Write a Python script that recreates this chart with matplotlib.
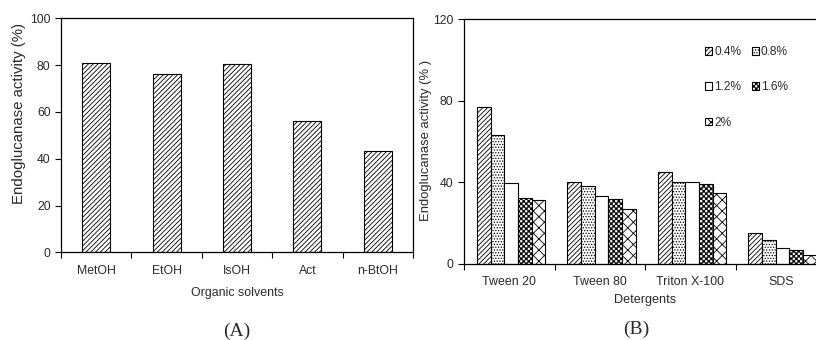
import warnings
import numpy as np
import matplotlib
matplotlib.use("Agg")
import matplotlib.pyplot as plt
from matplotlib import hatch as mhatch
from matplotlib.path import Path

warnings.filterwarnings("ignore", message=".*hatch must consist.*")

# Data, panel A
solvents = ["MetOH", "EtOH", "IsOH", "Act", "n-BtOH"]
solvent_activity = [80.7, 76.1, 80.3, 56.0, 43.2]

# Data, panel B
detergents = ["Tween 20", "Tween 80", "Triton X-100", "SDS"]
concentrations = ["0.4%", "0.8%", "1.2%", "1.6%", "2%"]
act_04 = [76.7, 40.3, 45.0, 15.0]
act_08 = [63.0, 38.0, 40.3, 11.8]
act_12 = [39.9, 33.2, 40.3, 7.7]
act_16 = [32.2, 31.8, 39.4, 6.7]
act_20 = [31.3, 27.0, 34.7, 4.3]


# checkerboard hatch (char 'c'), matplotlib has none
class CheckerHatch(mhatch.HatchPatternBase):
    def __init__(self, hatch, density):
        self.n = 40 if 'c' in hatch else 0
        self.num_vertices = (self.n * self.n // 2) * 5

    def set_vertices_and_codes(self, vertices, codes):
        s = 1.0 / self.n
        d = 0.12 * s
        k = 0
        for i in range(self.n):
            for j in range(self.n):
                if (i + j) % 2 == 0:
                    x, y = i * s, j * s
                    vertices[k:k + 5] = [(x + d, y + d), (x + s - d, y + d),
                                         (x + s - d, y + s - d), (x + d, y + s - d),
                                         (x + d, y + d)]
                    codes[k:k + 5] = [Path.MOVETO, Path.LINETO, Path.LINETO,
                                      Path.LINETO, Path.CLOSEPOLY]
                    k += 5


mhatch._hatch_types.append(CheckerHatch)

plt.rcParams['font.family'] = ['Liberation Sans', 'DejaVu Sans']
plt.rcParams['hatch.linewidth'] = 0.6
text_col = '#2a2a2a'

fig = plt.figure(figsize=(8.16, 3.4), dpi=100)

# Panel A
axA = fig.add_axes([61 / 816, 1 - 252.3 / 340, 352 / 816, 234 / 340])
x = np.arange(len(solvents))
axA.bar(x, solvent_activity, width=0.4, color='white', edgecolor='black',
        linewidth=0.8, hatch='///////')
axA.set_xlim(-0.5, len(solvents) - 0.5)
axA.set_ylim(0, 100)
axA.set_yticks(range(0, 101, 20))
axA.set_xticks(x)
axA.set_xticklabels(solvents)
axA.set_xticks(np.arange(-0.5, len(solvents)), minor=True)
axA.tick_params(axis='x', which='major', length=0, pad=9, labelsize=8.8, labelcolor=text_col)
axA.tick_params(axis='x', which='minor', length=4, direction='out', width=0.8)
axA.tick_params(axis='y', length=4, direction='out', width=0.8, pad=3.5,
                labelsize=8.8, labelcolor=text_col)
axA.set_ylabel("Endoglucanase activity (%)", fontsize=10.8, color=text_col, va='center')
axA.yaxis.set_label_coords(-0.119, 0.594)
axA.set_xlabel("Organic solvents", fontsize=8.9, color=text_col, va='center')
axA.xaxis.set_label_coords(0.5, -0.174)
for sp in axA.spines.values():
    sp.set_linewidth(0.9)

# Panel B
axB = fig.add_axes([464 / 816, 1 - 264 / 340, 362 / 816, 245 / 340])
xb = np.arange(len(detergents))
series = [act_04, act_08, act_12, act_16, act_20]
hatches = ['///////', '......', '', 'c', 'xxx']
bw = 0.151
bars = []
for i, (vals, h, lab) in enumerate(zip(series, hatches, concentrations)):
    b = axB.bar(xb + (i - 2) * bw + 0.02, vals, width=bw, color='white',
                edgecolor='black', linewidth=0.8, hatch=h, label=lab)
    bars.append(b)
axB.set_xlim(-0.5, len(detergents) - 0.5)
axB.set_ylim(0, 120)
axB.set_yticks(range(0, 121, 40))
axB.set_xticks(xb)
axB.set_xticklabels(detergents)
axB.set_xticks(np.arange(-0.5, len(detergents)), minor=True)
axB.tick_params(axis='x', which='major', length=0, pad=8.5, labelsize=8.9, labelcolor=text_col)
axB.tick_params(axis='x', which='minor', length=4, direction='out', width=0.8)
axB.tick_params(axis='y', length=4, direction='out', width=0.8, pad=3.5,
                labelsize=8.8, labelcolor=text_col)
axB.set_ylabel("Endoglucanase activity (% )", fontsize=9.4, color=text_col, va='center')
axB.yaxis.set_label_coords(-0.106, 0.506)
axB.set_xlabel("Detergents", fontsize=9.1, color=text_col, va='center')
axB.xaxis.set_label_coords(0.5, -0.147)
for sp in axB.spines.values():
    sp.set_linewidth(0.9)

order = [0, 2, 4, 1, 3]
axB.legend([bars[k] for k in order], [concentrations[k] for k in order],
           ncol=2, loc='upper left', bbox_to_anchor=(0.666, 0.89),
           frameon=False, fontsize=8.6, handlelength=0.6, handleheight=0.6,
           handletextpad=0.15, columnspacing=0.9, labelspacing=1.95,
           borderpad=0, borderaxespad=0, labelcolor=text_col)

fig.text(237 / 816, 1 - 331 / 340, "(A)", ha='center', va='center',
         fontsize=14, family='Liberation Serif', color=text_col)
fig.text(636 / 816, 1 - 329 / 340, "(B)", ha='center', va='center',
         fontsize=14, family='Liberation Serif', color=text_col)

fig.savefig("out.png", dpi=100)
